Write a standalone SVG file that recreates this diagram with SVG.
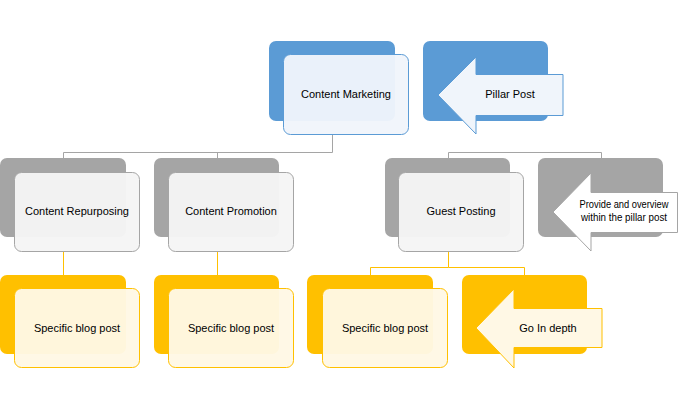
<svg xmlns="http://www.w3.org/2000/svg" width="678" height="410" viewBox="0 0 678 410">
<style>
text{font-family:"Liberation Sans",Arial,sans-serif;font-size:11px;fill:#000;text-anchor:middle}
.bb{fill:#5B9BD5}.fb{fill:#F0F5FB;fill-opacity:0.96;stroke:#5B9BD5;stroke-width:1}
.bg{fill:#A5A5A5}.fg{fill:#F5F5F5;fill-opacity:0.96;stroke:#A5A5A5;stroke-width:1}
.by{fill:#FFC000}.fy{fill:#FFF8E5;fill-opacity:0.96;stroke:#FFC000;stroke-width:1}
.ab{fill:#F0F5FB;stroke:#5B9BD5;stroke-width:1}
.ag{fill:#FFFFFF;stroke:#A5A5A5;stroke-width:1}
.ay{fill:#FFF8E5;stroke:#FFC000;stroke-width:1}
.cg{fill:none;stroke:#A5A5A5;stroke-width:1}
.cy{fill:none;stroke:#FFC000;stroke-width:1}
.sm{font-size:10.5px}
</style>
<g id="connectors">
<path class="cg" d="M332.5 135V152.5H63.5V158M217.5 152.5V158M448.5 152.5V158M448.5 152.5H601.5V158"/>
<path class="cy" d="M63.5 251V275M217.5 251V275M448.5 251V267.5H370.5V275M448.5 267.5H524.5V275"/>
</g>
<g id="content-marketing">
<rect class="bb" x="269" y="41" width="126" height="80" rx="7"/>
<rect class="fb" x="283.5" y="54.5" width="125" height="80" rx="7"/>
<text x="346" y="98">Content Marketing</text>
</g>
<g id="pillar-post">
<rect class="bb" x="423" y="41" width="125" height="80" rx="7"/>
<path class="ab" d="M438 95L476 57V74.5H563V115.5H476V134Z"/>
<text x="510" y="98">Pillar Post</text>
</g>
<g id="content-repurposing">
<rect class="bg" x="0" y="158" width="126" height="79" rx="7"/>
<rect class="fg" x="14.5" y="172.5" width="125" height="79" rx="7"/>
<text x="77" y="215">Content Repurposing</text>
</g>
<g id="content-promotion">
<rect class="bg" x="154" y="158" width="125" height="79" rx="7"/>
<rect class="fg" x="168.5" y="172.5" width="125" height="79" rx="7"/>
<text x="231" y="215">Content Promotion</text>
</g>
<g id="guest-posting">
<rect class="bg" x="385" y="158" width="125" height="79" rx="7"/>
<rect class="fg" x="398.5" y="172.5" width="125" height="79" rx="7"/>
<text x="461" y="215">Guest Posting</text>
</g>
<g id="provide-overview">
<rect class="bg" x="538" y="158" width="125" height="79" rx="7"/>
<path class="ag" d="M553 212L591 173V192.5H677.5V232.5H591V251Z"/>
<text class="sm" x="624" y="208" textLength="89" lengthAdjust="spacingAndGlyphs">Provide and overview</text>
<text class="sm" x="624" y="221" textLength="86" lengthAdjust="spacingAndGlyphs">within the pillar post</text>
</g>
<g id="blog-post-1">
<rect class="by" x="0" y="275" width="126" height="79" rx="7"/>
<rect class="fy" x="14.5" y="288.5" width="125" height="79" rx="7"/>
<text x="77" y="332">Specific blog post</text>
</g>
<g id="blog-post-2">
<rect class="by" x="154" y="275" width="125" height="79" rx="7"/>
<rect class="fy" x="168.5" y="288.5" width="125" height="79" rx="7"/>
<text x="231" y="332">Specific blog post</text>
</g>
<g id="blog-post-3">
<rect class="by" x="307" y="275" width="126" height="79" rx="7"/>
<rect class="fy" x="322.5" y="288.5" width="125" height="79" rx="7"/>
<text x="385" y="332">Specific blog post</text>
</g>
<g id="go-in-depth">
<rect class="by" x="462" y="275" width="125" height="79" rx="7"/>
<path class="ay" d="M476 328L514 289V308.5H602V347.5H514V368Z"/>
<text x="548" y="332">Go In depth</text>
</g>
</svg>
